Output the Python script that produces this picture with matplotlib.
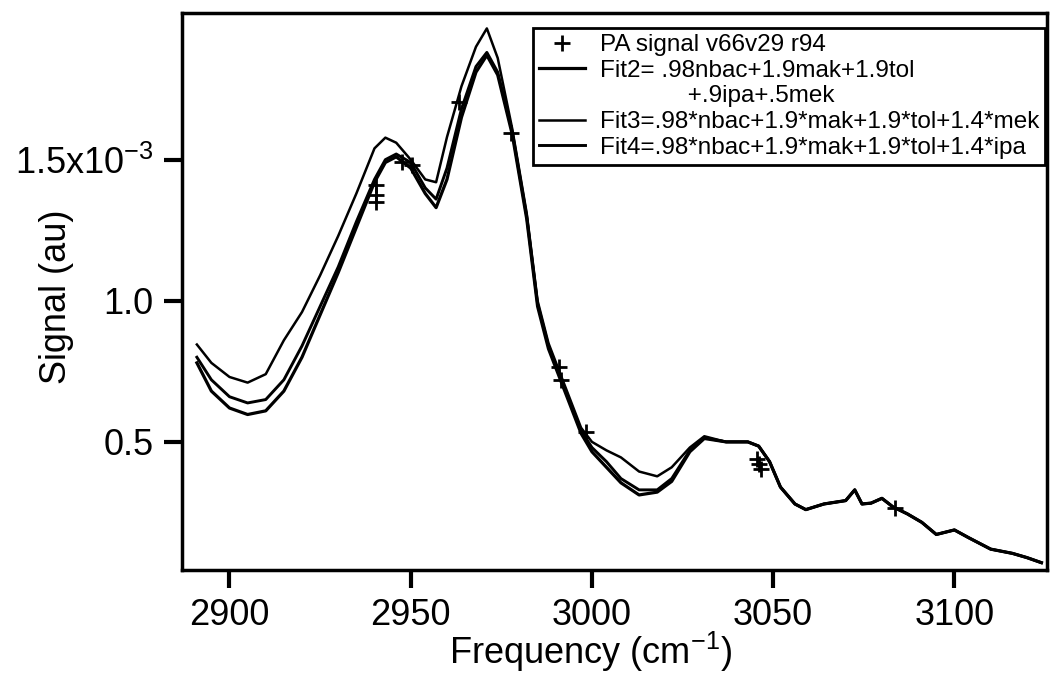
import numpy as np
import matplotlib
matplotlib.use('Agg')
import matplotlib.pyplot as plt
from matplotlib.lines import Line2D

plt.rcParams['font.family'] = ['Liberation Sans', 'DejaVu Sans']
plt.rcParams['mathtext.fontset'] = 'custom'
plt.rcParams['mathtext.rm'] = 'Liberation Sans'
plt.rcParams['mathtext.it'] = 'Liberation Sans:italic'

# frequency grid of the fit curves (cm^-1)
freq = [2891, 2895, 2900, 2905, 2910, 2915, 2920, 2925, 2930, 2935, 2940, 2943,
        2946, 2950, 2954, 2957, 2960, 2964, 2968, 2971, 2974, 2978, 2982, 2985,
        2988, 2991, 2994, 2997, 3000, 3004, 3008, 3013, 3018, 3022, 3027, 3031,
        3037, 3043, 3046, 3049, 3052, 3056, 3059, 3064, 3070, 3072.5, 3074.5,
        3077, 3080, 3083, 3087, 3091, 3095, 3100, 3104, 3110, 3116, 3120, 3124]

# signal in units of 1e-3
fit3 = [0.845, 0.78, 0.73, 0.71, 0.74, 0.86, 0.96, 1.09, 1.23, 1.38, 1.54, 1.578,
        1.56, 1.50, 1.43, 1.42, 1.58, 1.76, 1.90, 1.965, 1.86, 1.61, 1.31, 1.00,
        0.85, 0.75, 0.65, 0.55, 0.50, 0.47, 0.445, 0.395, 0.378, 0.41, 0.48, 0.52,
        0.50, 0.50, 0.485, 0.43, 0.34, 0.28, 0.26, 0.28, 0.292, 0.33, 0.28,
        0.283, 0.30, 0.27, 0.245, 0.215, 0.172, 0.188, 0.16, 0.12, 0.105, 0.09, 0.072]

fit4 = [0.80, 0.72, 0.66, 0.638, 0.65, 0.72, 0.84, 0.98, 1.12, 1.28, 1.43, 1.50,
        1.52, 1.49, 1.40, 1.36, 1.47, 1.68, 1.83, 1.88, 1.81, 1.60, 1.30, 0.99,
        0.84, 0.74, 0.64, 0.54, 0.48, 0.43, 0.37, 0.33, 0.33, 0.37, 0.47, 0.515,
        0.50, 0.50, 0.485, 0.43, 0.34, 0.28, 0.26, 0.28, 0.292, 0.33, 0.28,
        0.283, 0.30, 0.27, 0.245, 0.215, 0.172, 0.188, 0.16, 0.12, 0.105, 0.09, 0.072]

fit2 = [0.78, 0.68, 0.62, 0.597, 0.61, 0.68, 0.80, 0.95, 1.10, 1.26, 1.42, 1.49,
        1.51, 1.47, 1.38, 1.33, 1.43, 1.65, 1.81, 1.87, 1.80, 1.59, 1.29, 0.98,
        0.83, 0.73, 0.63, 0.53, 0.465, 0.41, 0.355, 0.312, 0.322, 0.36, 0.465, 0.512,
        0.50, 0.50, 0.485, 0.43, 0.34, 0.28, 0.26, 0.28, 0.292, 0.33, 0.28,
        0.283, 0.30, 0.27, 0.245, 0.215, 0.172, 0.188, 0.16, 0.12, 0.105, 0.09, 0.072]

# measured PA signal points
pa_freq = [2940.5, 2940.5, 2940.5, 2947.7, 2950.4, 2963.4, 2977.7,
           2991, 2991.5, 2998.3, 3045.5, 3046, 3046.5, 3083.7]
pa_sig = [1.411, 1.376, 1.351, 1.493, 1.482, 1.706, 1.596,
          0.766, 0.72, 0.535, 0.44, 0.42, 0.405, 0.266]

ytick_vals = [0.5, 1.0, 1.5]
ytick_labels = ['0.5', '1.0', '1.5x10$^{-3}$']
xtick_vals = [2900, 2950, 3000, 3050, 3100]

fig = plt.figure(figsize=(10.5, 6.79), dpi=100)
ax = fig.add_axes([0.173, 0.1605, 0.824, 0.8205])

ax.plot(freq, fit2, color='black', lw=2.3, label='Fit2= .98nbac+1.9mak+1.9tol')
ax.plot(freq, fit3, color='black', lw=1.8, label='Fit3=.98*nbac+1.9*mak+1.9*tol+1.4*mek')
ax.plot(freq, fit4, color='black', lw=2.1, label='Fit4=.98*nbac+1.9*mak+1.9*tol+1.4*ipa')
ax.plot(pa_freq, pa_sig, ls='none', marker='+', ms=11, mew=2, color='black',
        label='PA signal v66v29 r94')

ax.set_xlim(2886.8, 3125.5)
ax.set_ylim(0.046, 2.02)
ax.set_xticks(xtick_vals)
ax.set_yticks(ytick_vals)
ax.set_yticklabels(ytick_labels)
ax.tick_params(direction='out', length=13, width=3, labelsize=26, pad=7,
               top=False, right=False)
for sp in ax.spines.values():
    sp.set_linewidth(2.5)

ax.set_xlabel('Frequency (cm$^{-1}$)', fontsize=26)
ax.xaxis.set_label_coords(0.472, -0.108)
ax.set_ylabel('Signal (au)', fontsize=26)
ax.yaxis.set_label_coords(-0.124, 0.49)

# legend: order and blank row for the wrapped Fit2 label
h, l = ax.get_legend_handles_labels()
blank = Line2D([], [], ls='none')
handles = [h[3], h[0], blank, h[1], h[2]]
labels = [l[3], l[0], '             +.9ipa+.5mek', l[1], l[2]]
leg = ax.legend(handles, labels, loc='upper right', bbox_to_anchor=(0.998, 0.973),
                fontsize=17.5, labelspacing=0.15, handlelength=1.9,
                handletextpad=0.6, borderpad=0.25, borderaxespad=0,
                fancybox=False, framealpha=1, edgecolor='black')
leg.get_frame().set_linewidth(2)

fig.savefig('out.png', dpi=100)
